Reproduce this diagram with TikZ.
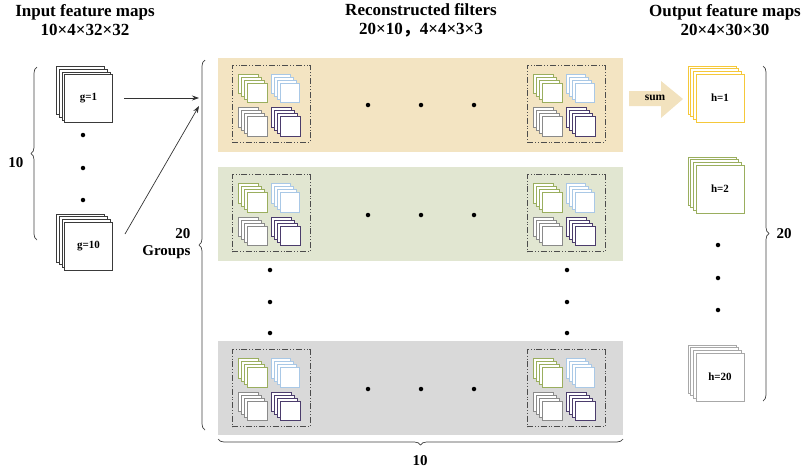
\documentclass[tikz,border=0pt]{standalone}
\usepackage{fontspec}
\setmainfont{Liberation Serif}
\newfontfamily\cjk{Noto Sans CJK SC}
\usetikzlibrary{arrows.meta,decorations.pathreplacing}
\definecolor{bandA}{HTML}{F3E4C2}
\definecolor{bandB}{HTML}{E1E6D1}
\definecolor{bandC}{HTML}{D9D9D9}
\definecolor{sumcol}{HTML}{F2E2BE}
\definecolor{ycol}{HTML}{F5C83A}
\definecolor{gcol}{HTML}{9AAE5E}
\definecolor{bcol}{HTML}{A9C8E6}
\definecolor{grcol}{HTML}{8A8A8A}
\definecolor{pcol}{HTML}{4B3C6C}
\definecolor{lgcol}{HTML}{A8A8A8}
\definecolor{incol}{HTML}{3A3A3A}
\newcommand\fstack[7]{%
  \foreach \k in {3,2,1}{\node[sq, draw=#6, minimum size=#4pt] at ({#2-\k*#5},{#3-\k*#5}) {};}
  \node[sq, draw=#6, minimum size=#4pt] (#1) at (#2,#3) {#7};}
\newcommand\fgroup[3]{%
  \node[grpbox] (#1) at (#2,#3) {};
  \fstack{#1a}{#2-13.5}{#3-10.5}{19.5}{3}{gcol}{}
  \fstack{#1b}{#2+19}{#3-10.5}{19.5}{3}{bcol}{}
  \fstack{#1c}{#2-13.5}{#3+23}{19.5}{3}{grcol}{}
  \fstack{#1d}{#2+19.5}{#3+23}{19.5}{3}{pcol}{}}
\tikzset{
  sq/.style={fill=white, inner sep=0pt, line width=0.6pt, font=\bfseries\fontsize{11}{12}\selectfont},
  grpbox/.style={draw=black!70, line width=0.6pt, minimum width=78pt, minimum height=77pt, inner sep=0pt,
    dash pattern=on 6pt off 2pt on 0.8pt off 2pt on 0.8pt off 2pt},
  band/.style={inner sep=0pt, minimum width=405pt, minimum height=94pt},
  dotn/.style={circle, fill=black, inner sep=0pt, minimum size=4.5pt},
  title/.style={font=\bfseries\fontsize{17}{19}\selectfont, align=center},
  blab/.style={font=\bfseries\fontsize{15}{17}\selectfont},
  brc/.style={decorate, decoration={brace, amplitude=6pt}, draw=black!75, line width=0.7pt},
  arr/.style={-{Stealth[length=7pt,width=5pt]}, draw=black!80, line width=0.7pt}
}
\begin{document}
\begin{tikzpicture}[x=1pt,y=-1pt]
\useasboundingbox (0,0) rectangle (801,472);
% titles
\node[title] (t1) at (85,20) {Input feature maps\\10×4×32×32};
\node[title] (t2) at (421,20) {Reconstructed filters\\20×10{\cjk ，}4×4×3×3};
\node[title] (t3) at (725,20) {Output feature maps\\20×4×30×30};
% input stacks
\fstack{g1}{88.5}{98.5}{48}{2.7}{incol}{g=1}
\fstack{g10}{88.5}{246}{48}{2.7}{incol}{g=10}
\foreach \yy [count=\i] in {135,168,200}{\node[dotn] (ind\i) at (83,\yy) {};}
% left brace
\draw[brc] (37,240) -- (37,67);
\node[blab, anchor=east] (ten) at (27,163) {10};
% bands
\node[band, fill=bandA] (b1) at (420.5,105) {};
\node[band, fill=bandB] (b2) at (420.5,214) {};
\node[band, fill=bandC] (b3) at (420.5,387.5) {};
\fgroup{ga}{271}{103.5}
\fgroup{gb}{566}{103.5}
\fgroup{gc}{271}{213}
\fgroup{gd}{566}{213}
\fgroup{ge}{271}{388}
\fgroup{gf}{566}{388}
\foreach \yy [count=\j] in {105,215,389}{
  \foreach \xx [count=\i] in {368,421,474}{\node[dotn] (bd\j\i) at (\xx,\yy) {};}}
\foreach \yy [count=\i] in {270,302,333}{
  \node[dotn] (vl\i) at (270,\yy) {};
  \node[dotn] (vr\i) at (567,\yy) {};}
% big brace
\draw[brc] (205,430) -- (205,60);
\node[blab, anchor=east, align=right] (grp) at (194,244) {20\\Groups};
% bottom brace
\draw[brc] (623,439) -- (218,439);
\node[blab] (bten) at (420,461) {10};
% arrows
\coordinate (bt1) at (199,98);
\coordinate (bt2) at (199,106);
\coordinate (s1) at (124,98);
\coordinate (s2) at (125,234);
\draw[arr] (s1) -- (bt1);
\draw[arr] (s2) -- (bt2);
% sum arrow
\fill[sumcol] (629,91) -- (661,91) -- (661,81) -- (683,99) -- (661,118) -- (661,106) -- (629,106) -- cycle;
\node[font=\bfseries\fontsize{11.5}{12}\selectfont] (sum) at (655,98) {sum};
% output stacks
\fstack{h1}{720}{98}{48}{2.7}{ycol}{h=1}
\fstack{h2}{720}{189}{48}{2.7}{gcol}{h=2}
\fstack{h20}{720}{377}{48}{2.7}{lgcol}{h=20}
\foreach \yy [count=\i] in {245,278,310}{\node[dotn] (outd\i) at (718,\yy) {};}
% right brace
\draw[brc] (763,66) -- (763,401);
\node[blab, anchor=west] (tw) at (773,234) {20};
\end{tikzpicture}
\end{document}
